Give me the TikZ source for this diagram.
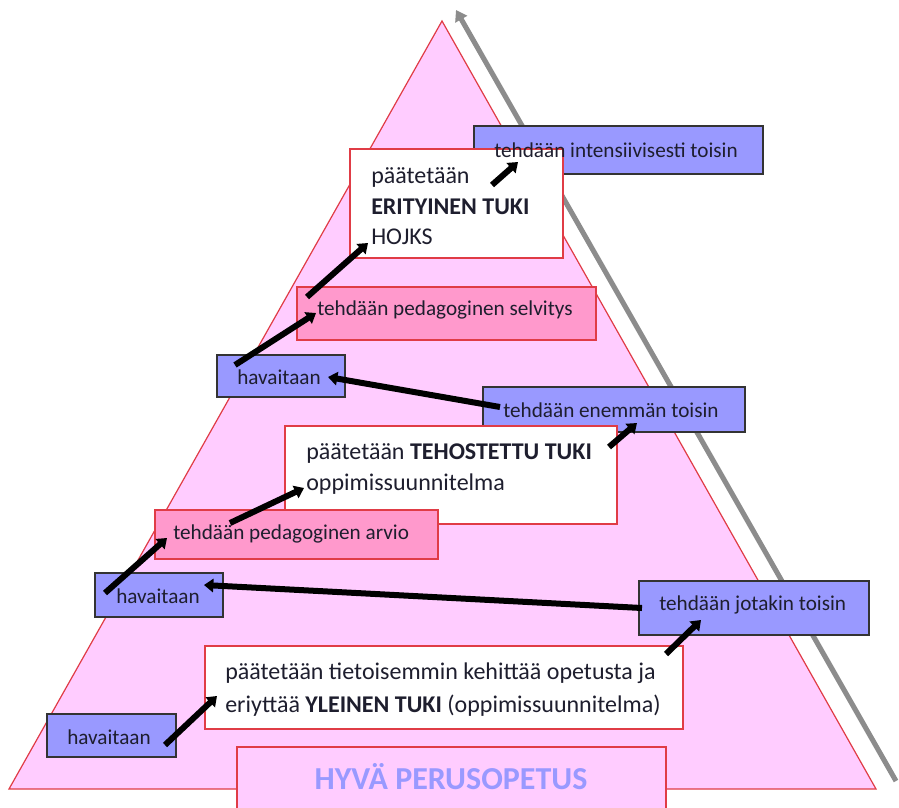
\documentclass[tikz,border=0pt]{standalone}
\usepackage{fontspec}
\setmainfont{Carlito}
\usetikzlibrary{arrows.meta}
\definecolor{tripink}{HTML}{FFCCFF}
\definecolor{boxpink}{HTML}{FF99CC}
\definecolor{boxblue}{HTML}{9999FF}
\definecolor{redline}{HTML}{E03C46}
\definecolor{darkline}{HTML}{333333}
\definecolor{grayarrow}{HTML}{8C8C8C}
\definecolor{txt}{HTML}{1E1E2E}
\begin{document}
\begin{tikzpicture}[x=0.75pt,y=-0.75pt,
  box/.style={rectangle, anchor=north west, inner sep=0pt, outer sep=0pt},
  sz/.style 2 args={minimum width=#1*0.75pt, minimum height=#2*0.75pt},
  bluebox/.style={box, draw=darkline, fill=boxblue, line width=1.1pt},
  pinkbox/.style={box, draw=redline, fill=boxpink, line width=1.1pt},
  whitebox/.style={box, draw=redline, fill=white, line width=1.1pt},
  basebox/.style={box, draw=redline, fill=tripink, line width=1.1pt},
  lbl/.style={anchor=base west, inner sep=0pt, text=txt, font=\fontsize{15.9}{19}\selectfont},
  wlbl/.style={lbl, font=\fontsize{18}{22}\selectfont},
  flow/.style={line width=4.5pt, black, -{Triangle[length=7pt,width=10pt]}},
  level/.style={line width=3.8pt, grayarrow, -{Triangle[length=8pt,width=10pt]}},
]
\useasboundingbox (0,0) rectangle (899,807);
\clip (0,0) rectangle (899,807);
\fill[white] (0,0) rectangle (899,807);

% pyramid
\coordinate (apex) at (442,21);
\coordinate (bl) at (9,789);
\coordinate (br) at (876,789);
\filldraw[fill=tripink, draw=redline, line width=0.9pt] (apex) -- (bl) -- (br) -- cycle;

% grey level arrow
\coordinate (gs) at (896,781);
\coordinate (ge) at (456,10);
\draw[level] (gs) -- (ge);

% boxes
\node[bluebox, sz={289}{48}] (b1) at (474,126) {};
\node[whitebox, sz={213}{109}] (b2) at (350,149) {};
\node[pinkbox, sz={299}{53}] (b3) at (297,287) {};
\node[bluebox, sz={128}{42}] (b4) at (217,355) {};
\node[bluebox, sz={262}{45}] (b5) at (483,387) {};
\node[whitebox, sz={332}{98}] (b6) at (285,426) {};
\node[pinkbox, sz={283}{49}] (b7) at (155,510) {};
\node[bluebox, sz={128}{44}] (b8) at (95,573) {};
\node[bluebox, sz={230}{54}] (b9) at (639,581) {};
\node[whitebox, sz={478}{83}] (b10) at (205,646) {};
\node[bluebox, sz={129}{43}] (b11) at (47,714) {};
\node[basebox, sz={429}{75}] (b12) at (237,747) {};

% texts
\node[lbl] (t1) at (494,157) {tehdään intensiivisesti toisin};
\node[wlbl] (t2a) at (371,183) {päätetään};
\node[wlbl] (t2b) at (371,214) {\textbf{ERITYINEN TUKI}};
\node[wlbl] (t2c) at (371,244) {HOJKS};
\node[lbl] (t3) at (317,315) {tehdään pedagoginen selvitys};
\node[lbl] (t4) at (237,384) {havaitaan};
\node[lbl] (t5) at (503,417) {tehdään enemmän toisin};
\node[wlbl] (t6a) at (306,459) {päätetään \textbf{TEHOSTETTU TUKI}};
\node[wlbl] (t6b) at (306,490) {oppimissuunnitelma};
\node[lbl] (t7) at (173,539) {tehdään pedagoginen arvio};
\node[lbl] (t8) at (116,603) {havaitaan};
\node[lbl] (t9) at (659,610) {tehdään jotakin toisin};
\node[wlbl] (t10a) at (225,679) {päätetään tietoisemmin kehittää opetusta ja};
\node[wlbl] (t10b) at (225,712) {eriyttää \textbf{YLEINEN TUKI} (oppimissuunnitelma)};
\node[lbl] (t11) at (67,744) {havaitaan};
\node[anchor=base, inner sep=0pt, text=boxblue, font=\fontsize{24}{28}\selectfont\bfseries] (t12) at (451,789) {HYVÄ PERUSOPETUS};

% flow arrow end points
\coordinate (a1s) at (165,745); \coordinate (a1e) at (217,696);
\coordinate (a2s) at (666,654); \coordinate (a2e) at (701,620);
\coordinate (a3s) at (642,608); \coordinate (a3e) at (204,585);
\coordinate (a4s) at (105,593); \coordinate (a4e) at (167,538);
\coordinate (a5s) at (230,523); \coordinate (a5e) at (304,488);
\coordinate (a6s) at (609,447); \coordinate (a6e) at (637,423);
\coordinate (a7s) at (500,407); \coordinate (a7e) at (328,377);
\coordinate (a8s) at (235,365); \coordinate (a8e) at (316,313);
\coordinate (a9s) at (307,297); \coordinate (a9e) at (368,243);
\coordinate (a10s) at (492,185); \coordinate (a10e) at (518,162);

\foreach \i in {1,...,10} {\draw[flow] (a\i s) -- (a\i e);}
\end{tikzpicture}
\end{document}
